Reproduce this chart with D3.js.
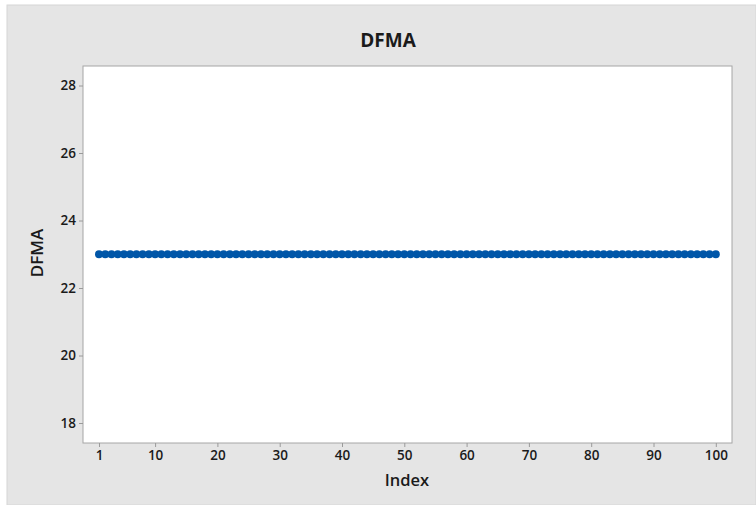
<!DOCTYPE html>
<html><head><meta charset="utf-8">
<script src="https://cdn.jsdelivr.net/npm/d3@7"></script>
<style>body{margin:0;background:#fff}svg{display:block}text{font-family:"Open Sans","Noto Sans",sans-serif}</style>
</head><body>
<script>
const title = "DFMA";
const xLabel = "Index";
const yLabel = "DFMA";
const indexValues = d3.range(1, 101);
const dfmaValues = [23,23,23,23,23,23,23,23,23,23,23,23,23,23,23,23,23,23,23,23,
23,23,23,23,23,23,23,23,23,23,23,23,23,23,23,23,23,23,23,23,
23,23,23,23,23,23,23,23,23,23,23,23,23,23,23,23,23,23,23,23,
23,23,23,23,23,23,23,23,23,23,23,23,23,23,23,23,23,23,23,23,
23,23,23,23,23,23,23,23,23,23,23,23,23,23,23,23,23,23,23,23];
const xTicks = [1,10,20,30,40,50,60,70,80,90,100];
const yTicks = [18,20,22,24,26,28];

const W = 756, H = 505;
const svg = d3.select("body").append("svg").attr("width", W).attr("height", H);
svg.append("rect").attr("x", 7).attr("y", 5).attr("width", W - 7).attr("height", H - 5)
  .attr("fill", "#e5e5e5").attr("stroke", "#d6d6d6");

const L = 83, R = 732, T = 66, B = 443;
const x = d3.scaleLinear().domain([0, 100]).range([92.8, 715.8]);
const y = d3.scaleLinear().domain([18, 28]).range([423, 85.5]);

svg.append("rect").attr("x", L).attr("y", T).attr("width", R - L).attr("height", B - T)
  .attr("fill", "#fff").attr("stroke", "#a6a6a6");

const xAxis = svg.append("g").attr("transform", `translate(0,${B})`)
  .call(d3.axisBottom(x).tickValues(xTicks).tickSize(4).tickPadding(3));
const yAxis = svg.append("g").attr("transform", `translate(${L},0)`)
  .call(d3.axisLeft(y).tickValues(yTicks).tickSize(4).tickPadding(3));
[xAxis, yAxis].forEach(a => {
  a.select(".domain").remove();
  a.selectAll("line").attr("stroke", "#9a9a9a");
  a.selectAll("text").attr("font-size", 13.5).attr("font-weight", 600).attr("fill", "#1a1a1a")
    .style("font-family", '"Open Sans","Noto Sans",sans-serif');
});

svg.append("g").selectAll("circle").data(indexValues).join("circle")
  .attr("cx", (d) => x(d)).attr("cy", (d, i) => y(dfmaValues[i]))
  .attr("r", 4).attr("fill", "#0056a8");

svg.append("text").attr("x", 388).attr("y", 47).attr("text-anchor", "middle")
  .attr("font-size", 19).attr("font-weight", 700).attr("fill", "#1a1a1a").text(title);
svg.append("text").attr("x", 407).attr("y", 486).attr("text-anchor", "middle")
  .attr("font-size", 16.5).attr("font-weight", 600).attr("fill", "#1a1a1a").text(xLabel);
svg.append("text").attr("transform", "translate(43,253) rotate(-90)").attr("text-anchor", "middle")
  .attr("font-size", 17).attr("font-weight", 600).attr("fill", "#1a1a1a").text(yLabel);
</script>
</body></html>
